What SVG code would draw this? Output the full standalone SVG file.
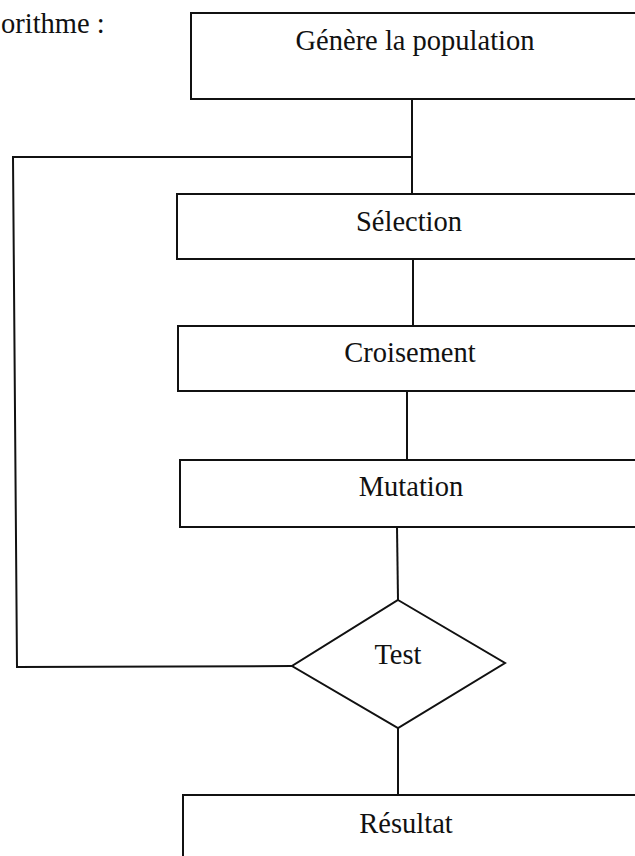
<svg xmlns="http://www.w3.org/2000/svg" width="635" height="856" viewBox="0 0 635 856">
  <style>
    .box { fill: #ffffff; stroke: #111111; stroke-width: 2; }
    .wire { fill: none; stroke: #111111; stroke-width: 2; }
    .label { font-family: "Liberation Serif", "Times New Roman", serif; font-size: 28.5px; fill: #111111; text-anchor: middle; }
  </style>
  <rect x="0" y="0" width="635" height="856" fill="#ffffff"/>

  <text x="1" y="33" class="label" style="text-anchor:start">orithme :</text>

  <!-- connectors -->
  <g id="connectors">
    <line class="wire" x1="412" y1="99" x2="412" y2="194"/>
    <polyline class="wire" points="292,666 17,667 13,157 412,157"/>
    <line class="wire" x1="413" y1="259" x2="413" y2="326"/>
    <line class="wire" x1="407" y1="391" x2="407" y2="460"/>
    <line class="wire" x1="397" y1="527" x2="398" y2="600"/>
    <line class="wire" x1="398" y1="728" x2="398" y2="795"/>
  </g>

  <g id="node-generation">
    <rect class="box" x="191" y="13" width="520" height="86"/>
    <text x="415" y="50" class="label">Génère la population</text>
  </g>

  <g id="node-selection">
    <rect class="box" x="177" y="194" width="520" height="65"/>
    <text x="409" y="231" class="label">Sélection</text>
  </g>

  <g id="node-croisement">
    <rect class="box" x="178" y="326" width="520" height="65"/>
    <text x="410" y="362" class="label">Croisement</text>
  </g>

  <g id="node-mutation">
    <rect class="box" x="180" y="460" width="520" height="67"/>
    <text x="411" y="496" class="label">Mutation</text>
  </g>

  <g id="node-test">
    <polygon class="box" points="398,600 505,663 398,728 292,666"/>
    <text x="398" y="664" class="label">Test</text>
  </g>

  <g id="node-resultat">
    <rect class="box" x="183" y="795" width="520" height="100"/>
    <text x="406" y="833" class="label">Résultat</text>
  </g>
</svg>
